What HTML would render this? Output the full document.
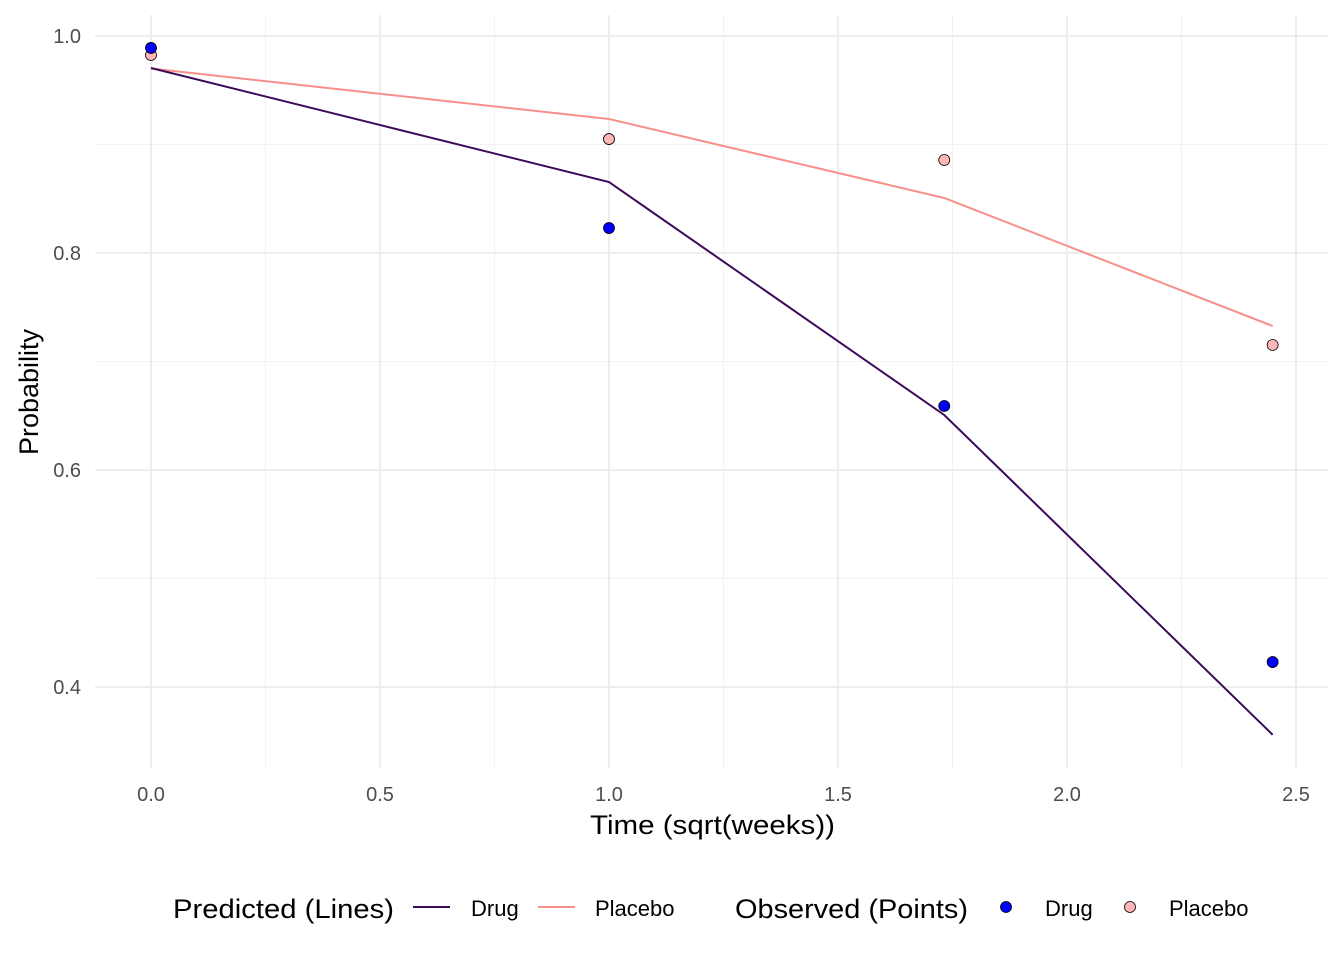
<!DOCTYPE html>
<html><head><meta charset="utf-8"><style>
body{margin:0;background:#fff;font-family:"Liberation Sans",sans-serif;}
</style></head><body>
<svg id="chart" width="1344" height="960" xmlns="http://www.w3.org/2000/svg"></svg>
<script>
const xVals=[0,1,1.732,2.449];
const predDrug=[0.9705,0.8654,0.6507,0.356];
const predPlacebo=[0.970,0.9235,0.8507,0.7327];
const obsDrug=[0.989,0.823,0.659,0.423];
const obsPlacebo=[0.9825,0.905,0.8857,0.7152];
const xTicks=[0,0.5,1,1.5,2,2.5];
const xTickLabels=["0.0","0.5","1.0","1.5","2.0","2.5"];
const yTicks=[0.4,0.6,0.8,1.0];
const yTickLabels=["0.4","0.6","0.8","1.0"];
const NS="http://www.w3.org/2000/svg";
const svg=document.getElementById('chart');
const sx=v=>151+v*458;
const sy=v=>36+(1-v)*1085;
function mk(t,a,txt){const e=document.createElementNS(NS,t);for(const k in a)e.setAttribute(k,a[k]);if(txt!==undefined)e.textContent=txt;svg.appendChild(e);return e;}
const L=95,R=1328,T=15,B=768;
for(const v of [0.5,0.7,0.9]){const e=mk('line',{x1:L,x2:R,y1:sy(v),y2:sy(v),stroke:'#f2f2f2','stroke-width':1});

}
for(const v of [0.25,0.75,1.25,1.75,2.25]){const e=mk('line',{x1:sx(v),x2:sx(v),y1:T,y2:B,stroke:'#f2f2f2','stroke-width':1});

}
yTicks.forEach((v,i)=>{const e=mk('line',{x1:L,x2:R,y1:sy(v),y2:sy(v),stroke:'#ebebeb','stroke-width':1.8});


const t=mk('text',{x:81,y:sy(v)+7,'text-anchor':'end','font-size':20,fill:'#4d4d4d'},yTickLabels[i]);

});
xTicks.forEach((v,i)=>{const e=mk('line',{x1:sx(v),x2:sx(v),y1:T,y2:B,stroke:'#ebebeb','stroke-width':1.8});


const t=mk('text',{x:sx(v),y:801,'text-anchor':'middle','font-size':20,fill:'#4d4d4d'},xTickLabels[i]);

});
function line(vals,col,name){const p=mk('polyline',{points:xVals.map((x,i)=>sx(x)+','+sy(vals[i])).join(' '),fill:'none',stroke:col,'stroke-width':2});

}
line(predPlacebo,'#f8908a','predicted-placebo-line');
line(predDrug,'#3b0a5a','predicted-drug-line');
function pts(vals,col,name){xVals.forEach((x,i)=>{const c=mk('circle',{cx:sx(x),cy:sy(vals[i]),r:5.5,fill:col,stroke:'#000','stroke-width':0.8});

});}
pts(obsPlacebo,'#ffb6b9','observed-placebo-point');
pts(obsDrug,'#0000ff','observed-drug-point');
let t=mk('text',{x:590,y:834,'font-size':27,fill:'#000',textLength:245,lengthAdjust:'spacingAndGlyphs'},'Time (sqrt(weeks))');


t=mk('text',{x:38,y:392,'text-anchor':'middle','font-size':27,fill:'#000',transform:'rotate(-90 38 392)'},'Probability');


t=mk('text',{x:173,y:918,'font-size':27,textLength:221,lengthAdjust:'spacingAndGlyphs'},'Predicted (Lines)');


let e=mk('line',{x1:413,x2:450,y1:907,y2:907,stroke:'#3b0a5a','stroke-width':2});


t=mk('text',{x:471,y:916,'font-size':22},'Drug');


e=mk('line',{x1:538,x2:575,y1:907,y2:907,stroke:'#f8908a','stroke-width':2});


t=mk('text',{x:595,y:916,'font-size':22},'Placebo');


t=mk('text',{x:735,y:918,'font-size':27,textLength:233,lengthAdjust:'spacingAndGlyphs'},'Observed (Points)');


e=mk('circle',{cx:1006,cy:907,r:5.5,fill:'#0000ff',stroke:'#000','stroke-width':0.8});


t=mk('text',{x:1045,y:916,'font-size':22},'Drug');


e=mk('circle',{cx:1130,cy:907,r:5.5,fill:'#ffb6b9',stroke:'#000','stroke-width':0.8});


t=mk('text',{x:1169,y:916,'font-size':22},'Placebo');


</script>
</body></html>
